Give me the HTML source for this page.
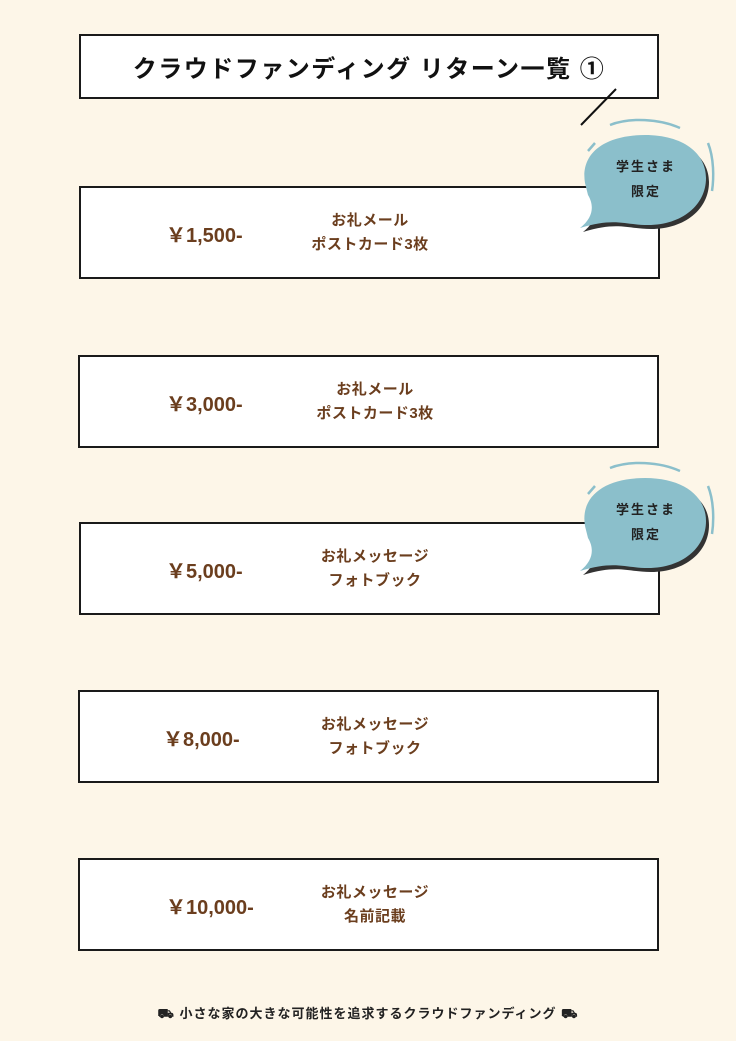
<!DOCTYPE html>
<html><head><meta charset="utf-8"><style>
body{margin:0;width:736px;height:1041px;background:#fdf6e8;position:relative;overflow:hidden;font-family:"Liberation Sans","Noto Sans CJK JP",sans-serif}
.box{position:absolute;border:2px solid #1a1a1a;background:#fff;box-sizing:border-box}
.price{position:absolute;color:#6b3e1e;font-weight:bold;font-size:20px;line-height:24px}
.item{position:absolute;color:#6b3e1e;font-weight:bold;font-size:15px;line-height:24px;text-align:center;width:200px;letter-spacing:0.5px}
.title{position:absolute;left:79px;top:34px;width:580px;height:65px;display:flex;align-items:center;justify-content:center;font-weight:bold;font-size:24px;letter-spacing:1.5px;color:#111}
.foot{position:absolute;top:1003px;left:0;width:736px;text-align:center;font-size:13px;font-weight:bold;color:#222;letter-spacing:1px}
</style></head><body>
<div class="box title">クラウドファンディング リターン一覧 ①</div>
<svg style="position:absolute;left:0;top:0" width="736" height="1041">
<line x1="616" y1="89" x2="581" y2="125" stroke="#111" stroke-width="2"/>
</svg>

<div class="box" style="left:79px;top:186px;width:581px;height:93px"></div>
<div class="price" style="left:166px;top:224px">￥1,500-</div>
<div class="item" style="left:270px;top:209px">お礼メール<br>ポストカード3枚</div>

<div class="box" style="left:78px;top:355px;width:581px;height:93px"></div>
<div class="price" style="left:166px;top:393px">￥3,000-</div>
<div class="item" style="left:275px;top:378px">お礼メール<br>ポストカード3枚</div>

<div class="box" style="left:79px;top:522px;width:581px;height:93px"></div>
<div class="price" style="left:166px;top:560px">￥5,000-</div>
<div class="item" style="left:275px;top:545px">お礼メッセージ<br>フォトブック</div>

<div class="box" style="left:78px;top:690px;width:581px;height:93px"></div>
<div class="price" style="left:163px;top:728px">￥8,000-</div>
<div class="item" style="left:275px;top:713px">お礼メッセージ<br>フォトブック</div>

<div class="box" style="left:78px;top:858px;width:581px;height:93px"></div>
<div class="price" style="left:166px;top:896px">￥10,000-</div>
<div class="item" style="left:275px;top:881px">お礼メッセージ<br>名前記載</div>

<svg style="position:absolute;left:0;top:0" width="736" height="1041">
<defs>
<g id="bub">
<path d="M5,50 C0,20 25,2 65,2 C103,2 126,20 126,45 C126,72 102,92 68,92 C45,92 35,84 0,95 C14,84 14,72 8,62 Z" transform="translate(3,4)" fill="#333"/>
<path d="M5,50 C0,20 25,2 65,2 C103,2 126,20 126,45 C126,72 102,92 68,92 C45,92 35,84 0,95 C14,84 14,72 8,62 Z" fill="#8bbfcb"/>
<path d="M30,-8 C50,-16 80,-14 100,-5" stroke="#8bbfcb" stroke-width="2.5" fill="none"/>
<path d="M8,18 L15,10" stroke="#8bbfcb" stroke-width="2.5" fill="none"/>
<path d="M128,10 C134,25 134,45 132,58" stroke="#8bbfcb" stroke-width="2.5" fill="none"/>
<text x="66" y="38" font-size="13" font-weight="bold" text-anchor="middle" fill="#222" letter-spacing="2" font-family="Liberation Sans, Noto Sans CJK JP, sans-serif">学生さま</text>
<text x="66" y="63" font-size="13" font-weight="bold" text-anchor="middle" fill="#222" letter-spacing="2" font-family="Liberation Sans, Noto Sans CJK JP, sans-serif">限定</text>
</g>
</defs>
<use href="#bub" x="580" y="133"/>
<use href="#bub" x="580" y="476"/>
</svg>
<div class="foot">⛟ 小さな家の大きな可能性を追求するクラウドファンディング ⛟</div>
</body></html>
